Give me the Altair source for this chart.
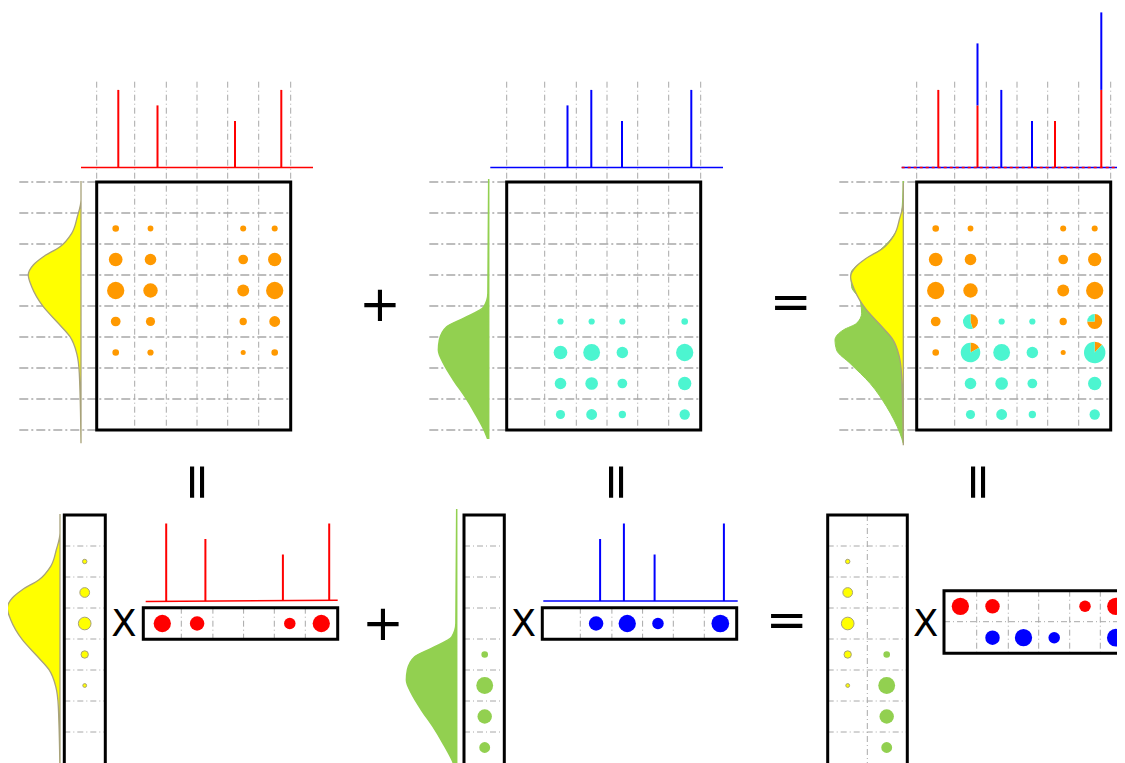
import math
import altair as alt
import pandas as pd

# ---------------- data ----------------
# spike heights per column (6 columns), relative units
red_spikes = [1.0, 0.8, 0.0, 0.0, 0.6, 1.0]
blue_spikes = [0.0, 0.8, 1.0, 0.6, 0.0, 1.0]

# rank-1 matrix 1 (orange): circle diameters (px), rows x cols
orange_rows = [1, 2, 3, 4, 5]
orange_cols = [0, 1, 4, 5]
orange_diam = [
    [7.5, 6.5, 6.8, 6.8],
    [15.5, 13.0, 11.0, 15.0],
    [19.5, 16.3, 13.5, 19.5],
    [11.0, 10.3, 8.3, 12.3],
    [7.5, 7.0, 5.7, 7.5],
]
# rank-1 matrix 2 (turquoise)
teal_rows = [4, 5, 6, 7]
teal_cols = [1, 2, 3, 5]
teal_diam = [
    [7.0, 7.0, 7.0, 7.5],
    [15.5, 19.0, 13.0, 19.5],
    [13.0, 14.3, 11.0, 15.0],
    [10.3, 12.3, 8.3, 11.7],
]
# overlapping cells of the sum: pies
pie_rows = [4, 5, 4, 5]
pie_cols = [1, 1, 5, 5]
pie_diam = [15.0, 19.5, 15.0, 21.5]
pie_orange_share = [0.45, 0.17, 0.75, 0.12]

# factor vectors (circle diameters, px)
yellow_vec = [5.0, 11.0, 14.3, 8.3, 4.3]   # rows 1..5
green_vec = [7.5, 19.0, 16.3, 12.3]        # rows 4..7
red_vec = [19.5, 16.3, 13.0, 19.5]         # cols 0,1,4,5
blue_vec = [16.3, 19.5, 13.0, 20.0]        # cols 1,2,3,5

# density profiles: offset below box top, width
yellow_off = [-1, 18, 34.7, 51.3, 64.7, 74.7, 83, 93, 104.7, 124.7, 141.3, 154.7, 171.3, 191.3, 261.3]
yellow_w = [0, 0, 3.7, 9.3, 21, 37.7, 47.7, 52.7, 49.3, 37.7, 22.7, 11, 4.3, 1.7, 0]
green_off = [-3, 111.3, 124.7, 136.3, 144.7, 158, 168, 181.3, 198, 214.7, 231.3, 248, 256.3]
green_w = [0, 0.8, 4.7, 25.3, 42, 49.3, 50.3, 45.3, 35.3, 23.7, 13.7, 4.7, 1.3]
sum_off = [-1, 31.3, 51.3, 68, 81.3, 91.3, 104.7, 118, 131.3, 141.3, 148, 158, 168, 181.3, 201.3, 224.7, 251.3, 261.3]
sum_w = [0, 1.7, 8.3, 23.3, 43.3, 52.3, 51.7, 43.3, 41.7, 46.7, 60, 68.3, 66.7, 53.3, 33.3, 16.7, 3.3, 0]

# ---------------- layout ----------------
W, H = 1109, 755
xs = alt.Scale(domain=[8, 8 + W], range=[0, W], zero=False, nice=False)
ys = alt.Scale(domain=[8, 8 + H], range=[0, H], zero=False, nice=False)

PANEL_X = [96.7, 506.7, 916.7]
BOX_TOP = 182.0
ROW_H = 31.0
N_ROWS = 8
COL_EDGES = [0, 38, 69.6, 100.3, 131, 162, 194]
COL_C = [(COL_EDGES[i] + COL_EDGES[i + 1]) / 2 for i in range(6)]
SPIKE_REL = [21.6, 60.8, 84.6, 115.3, 138.3, 184.6]
UNIT = 77.5
BASE_Y = 167.4
GRID_TOP = 81.7
DENS_BASE_X = [81.0, 488.7, 903.3]
COLBOX_TOP = 515.0
ROWBOX_Y = (607.7, 639.3)
TWO_ROW_EDGES = [0, 32.7, 64.3, 94.7, 125.7, 156.3, 187.3]
TWO_ROW_C = [(TWO_ROW_EDGES[i] + TWO_ROW_EDGES[i + 1]) / 2 for i in range(6)]

ORANGE = "#ff9900"
TEAL = "#4cf5d0"
RED = "#ff0000"
BLUE = "#0000ff"
YELLOW = "#ffff00"
OLIVE = "#a8a27a"
GREEN = "#92d050"
GRID = "#a8a8a8"


def X(f="x"):
    return alt.X(f"{f}:Q", scale=xs, axis=None)


def Y(f="y"):
    return alt.Y(f"{f}:Q", scale=ys, axis=None)


def rules(rows, **kw):
    return alt.Chart(pd.DataFrame(rows)).mark_rule(**kw).encode(
        x=X(), x2="x2:Q", y=Y(), y2="y2:Q")


def row_y(r, top=BOX_TOP):
    return top + ROW_H * (r + 0.5)


def area(d):
    return math.pi * (d / 2.0) ** 2


layers = []

# ---- grid lines ----
gv, gh, gi = [], [], []
for P in PANEL_X:
    for e in COL_EDGES:
        gv.append(dict(x=P + e, x2=P + e, y=GRID_TOP, y2=BOX_TOP + N_ROWS * ROW_H))
    for r in range(N_ROWS + 1):
        y = BOX_TOP + r * ROW_H
        gh.append(dict(x=P - 77.4, x2=P + 194, y=y, y2=y))


def col_box_lines(x0, x1):
    for r in range(1, N_ROWS):
        y = COLBOX_TOP + r * ROW_H
        gi.append(dict(x=x0, x2=x1, y=y, y2=y))


def row_box_lines(x0, y0, y1, edges):
    for e in edges[1:-1]:
        gi.append(dict(x=x0 + e, x2=x0 + e, y=y0, y2=y1))


col_box_lines(64.3, 105.3)
row_box_lines(143.3, ROWBOX_Y[0], ROWBOX_Y[1], COL_EDGES)
col_box_lines(464.0, 504.3)
row_box_lines(542.3, ROWBOX_Y[0], ROWBOX_Y[1], COL_EDGES)
col_box_lines(827.7, 907.3)
gi.append(dict(x=867.3, x2=867.3, y=COLBOX_TOP, y2=770))
row_box_lines(944.0, 590.7, 653.3, TWO_ROW_EDGES + [230])
gi.append(dict(x=944.0, x2=1130, y=621.7, y2=621.7))

layers.append(rules(gv, color=GRID, strokeWidth=1, strokeDash=[6, 3, 1, 3]))
layers.append(rules(gh, color=GRID, strokeWidth=1.6, strokeDash=[9, 3, 2, 3]))
layers.append(rules(gi, color=GRID, strokeWidth=1, strokeDash=[6, 3, 1, 3]))


# ---- densities ----
def dens(offs, ws, bx, top, fill, stroke, sw):
    df = pd.DataFrame({"y": [top + o for o in offs],
                       "xl": [bx - w for w in ws],
                       "xb": [bx] * len(ws)})
    return alt.Chart(df).mark_area(
        orient="horizontal", interpolate="monotone", fill=fill,
        stroke=stroke, strokeWidth=sw, opacity=1).encode(
        y=Y(), x=X("xl"), x2="xb:Q")


layers.append(dens(yellow_off, yellow_w, DENS_BASE_X[0], BOX_TOP, YELLOW, OLIVE, 1.3))
layers.append(dens(green_off, green_w, DENS_BASE_X[1], BOX_TOP, GREEN, GREEN, 1.5))
layers.append(dens(sum_off, sum_w, DENS_BASE_X[2], BOX_TOP, GREEN, GREEN, 1.0))
layers.append(dens(yellow_off, yellow_w, DENS_BASE_X[2], BOX_TOP + 2, YELLOW, OLIVE, 1.3))
layers.append(dens(yellow_off, yellow_w, 60.0, COLBOX_TOP, YELLOW, OLIVE, 1.3))
layers.append(dens(green_off, green_w, 456.7, COLBOX_TOP - 3, GREEN, GREEN, 1.5))

# ---- spike baselines ----
layers.append(rules([dict(x=81, x2=313, y=BASE_Y, y2=BASE_Y),
                     dict(x=145.7, x2=337.7, y=601.5, y2=600.3)], color=RED, strokeWidth=1.5))
layers.append(rules([dict(x=490.3, x2=723, y=BASE_Y, y2=BASE_Y),
                     dict(x=543.3, x2=737.7, y=601, y2=601),
                     dict(x=901.7, x2=1130, y=BASE_Y, y2=BASE_Y)], color=BLUE, strokeWidth=1.5))
layers.append(rules([dict(x=901.7, x2=1130, y=BASE_Y, y2=BASE_Y)],
                    color=RED, strokeWidth=1.5, strokeDash=[3, 3]))

# ---- spikes ----
sp = []
for c in range(6):
    hr, hb = red_spikes[c], blue_spikes[c]
    if hr > 0:
        sp.append(dict(x=PANEL_X[0] + SPIKE_REL[c], y=BASE_Y, y2=BASE_Y - hr * UNIT, c=RED))
        sp.append(dict(x=PANEL_X[2] + SPIKE_REL[c], y=BASE_Y, y2=BASE_Y - hr * UNIT, c=RED))
        sp.append(dict(x=144.6 + SPIKE_REL[c], y=601, y2=601 - hr * UNIT, c=RED))
    if hb > 0:
        sp.append(dict(x=PANEL_X[1] + SPIKE_REL[c], y=BASE_Y, y2=BASE_Y - hb * UNIT, c=BLUE))
        sp.append(dict(x=PANEL_X[2] + SPIKE_REL[c], y=BASE_Y - hr * UNIT,
                       y2=BASE_Y - (hr + hb) * UNIT, c=BLUE))
        sp.append(dict(x=539.3 + SPIKE_REL[c], y=601, y2=601 - hb * UNIT, c=BLUE))
for s in sp:
    s["x2"] = s["x"]
layers.append(rules(sp, strokeWidth=2).encode(color=alt.Color("c:N", scale=None)))

# ---- boxes ----
boxes = [dict(x=P, x2=P + 194, y=BOX_TOP, y2=BOX_TOP + N_ROWS * ROW_H) for P in PANEL_X]
boxes += [dict(x=64.3, x2=105.3, y=COLBOX_TOP, y2=770),
          dict(x=143.3, x2=337.7, y=ROWBOX_Y[0], y2=ROWBOX_Y[1]),
          dict(x=464.0, x2=504.3, y=COLBOX_TOP, y2=770),
          dict(x=542.3, x2=736.7, y=ROWBOX_Y[0], y2=ROWBOX_Y[1]),
          dict(x=827.7, x2=907.3, y=COLBOX_TOP, y2=770),
          dict(x=944.0, x2=1140, y=590.7, y2=653.3)]
layers.append(alt.Chart(pd.DataFrame(boxes)).mark_rect(
    fill="white", fillOpacity=0, stroke="black", strokeWidth=3).encode(
    x=X(), x2="x2:Q", y=Y(), y2="y2:Q"))

# ---- circles ----
circ = []
pie_cells = set(zip(pie_rows, pie_cols))
for i, r in enumerate(orange_rows):
    for j, c in enumerate(orange_cols):
        d = orange_diam[i][j]
        circ.append(dict(x=PANEL_X[0] + COL_C[c], y=row_y(r), s=area(d), c=ORANGE))
        if (r, c) not in pie_cells:
            circ.append(dict(x=PANEL_X[2] + COL_C[c], y=row_y(r), s=area(d), c=ORANGE))
for i, r in enumerate(teal_rows):
    for j, c in enumerate(teal_cols):
        d = teal_diam[i][j]
        circ.append(dict(x=PANEL_X[1] + COL_C[c], y=row_y(r), s=area(d), c=TEAL))
        if (r, c) not in pie_cells:
            circ.append(dict(x=PANEL_X[2] + COL_C[c], y=row_y(r), s=area(d), c=TEAL))
for j, c in enumerate(orange_cols):
    circ.append(dict(x=143.3 + COL_C[c], y=623.5, s=area(red_vec[j]), c=RED))
    circ.append(dict(x=944.0 + TWO_ROW_C[c], y=606.3, s=area(red_vec[j]), c=RED))
for j, c in enumerate(teal_cols):
    circ.append(dict(x=542.3 + COL_C[c], y=623.5, s=area(blue_vec[j]), c=BLUE))
    circ.append(dict(x=944.0 + TWO_ROW_C[c], y=637.7, s=area(blue_vec[j]), c=BLUE))
for i, r in enumerate(teal_rows):
    circ.append(dict(x=484.7, y=row_y(r, COLBOX_TOP), s=area(green_vec[i]), c=GREEN))
    circ.append(dict(x=886.7, y=row_y(r, COLBOX_TOP), s=area(green_vec[i]), c=GREEN))
layers.append(alt.Chart(pd.DataFrame(circ)).mark_circle(opacity=1).encode(
    x=X(), y=Y(), size=alt.Size("s:Q", scale=None), color=alt.Color("c:N", scale=None)))

ycirc = []
for i, r in enumerate(orange_rows):
    ycirc.append(dict(x=84.7, y=row_y(r, COLBOX_TOP), s=area(yellow_vec[i])))
    ycirc.append(dict(x=847.7, y=row_y(r, COLBOX_TOP), s=area(yellow_vec[i])))
layers.append(alt.Chart(pd.DataFrame(ycirc)).mark_circle(
    opacity=1, color=YELLOW, stroke=OLIVE, strokeWidth=1).encode(
    x=X(), y=Y(), size=alt.Size("s:Q", scale=None)))

# ---- pies ----
pies = []
for r, c, d, sh in zip(pie_rows, pie_cols, pie_diam, pie_orange_share):
    x, y = PANEL_X[2] + COL_C[c], row_y(r)
    pies.append(dict(x=x, y=y, t0=0.0, t1=sh * 2 * math.pi, r=d / 2, c=ORANGE))
    pies.append(dict(x=x, y=y, t0=sh * 2 * math.pi, t1=2 * math.pi, r=d / 2, c=TEAL))
layers.append(alt.Chart(pd.DataFrame(pies)).mark_arc().encode(
    x=X(), y=Y(),
    theta=alt.Theta("t0:Q", scale=None, stack=False), theta2="t1:Q",
    radius=alt.Radius("r:Q", scale=None),
    color=alt.Color("c:N", scale=None)))

# ---- operator symbols ----
big = pd.DataFrame([dict(x=380, y=306, t="+"), dict(x=790.7, y=304.3, t="="),
                    dict(x=383, y=625, t="+"), dict(x=786.7, y=621.7, t="=")])
layers.append(alt.Chart(big).mark_text(
    font="DejaVu Sans", fontSize=50, align="center", baseline="middle", color="black").encode(
    x=X(), y=Y(), text="t:N"))
rot = pd.DataFrame([dict(x=196, y=482.3, t="="), dict(x=615, y=482.3, t="="),
                    dict(x=977, y=482.3, t="=")])
layers.append(alt.Chart(rot).mark_text(
    font="DejaVu Sans", fontSize=50, align="center", baseline="middle", angle=90,
    color="black").encode(x=X(), y=Y(), text="t:N"))
xs_txt = pd.DataFrame([dict(x=124, y=625, t="X"), dict(x=523.3, y=625, t="X"),
                       dict(x=925.7, y=625, t="X")])
layers.append(alt.Chart(xs_txt).mark_text(
    font="DejaVu Sans", fontSize=37, align="center", baseline="middle",
    color="black").encode(x=X(), y=Y(), text="t:N"))

chart = alt.layer(*layers).properties(
    width=W, height=H, padding=0, autosize=alt.AutoSizeParams(type="none"),
    background="white").configure_view(stroke=None)

chart.save("out.html", embed_options={"renderer": "svg", "actions": False})
